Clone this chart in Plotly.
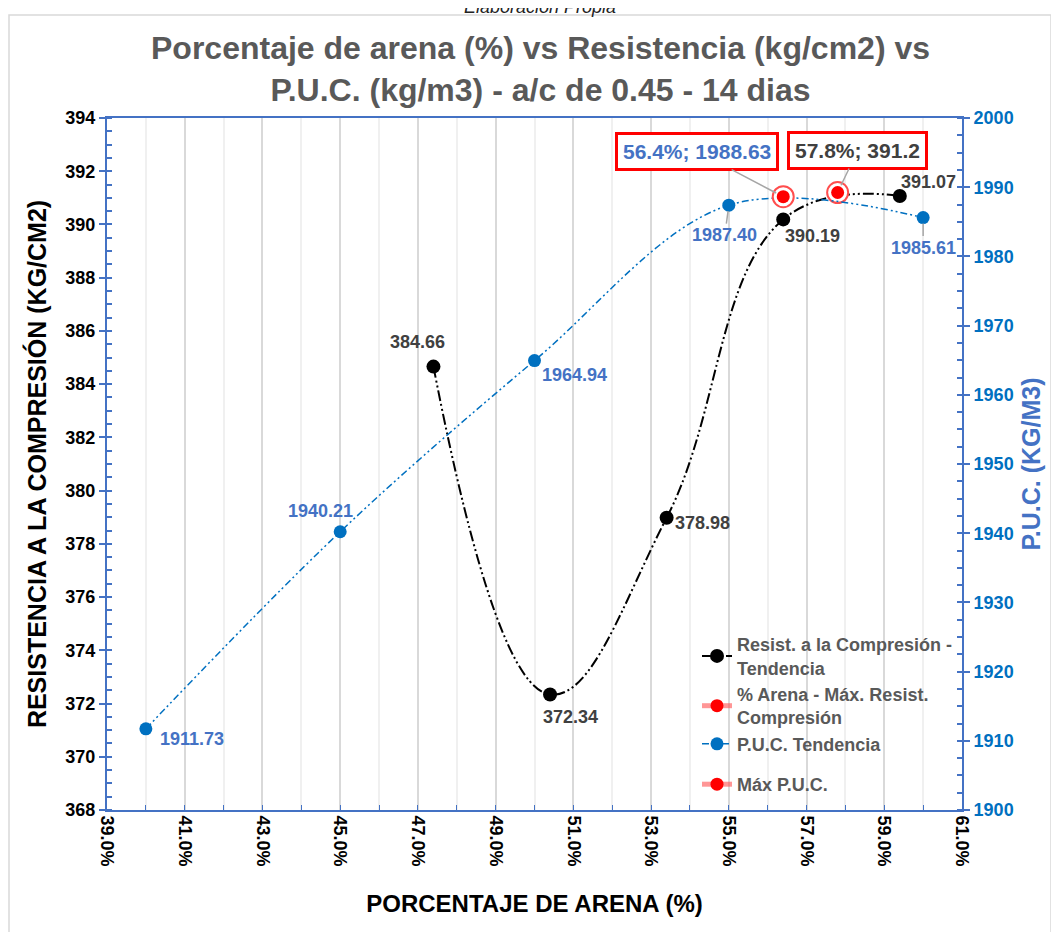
import plotly.graph_objects as go

# ---------------- data ----------------
arena_res = [47.4, 50.4, 53.4, 56.4, 59.4]
resistencia = [384.66, 372.34, 378.98, 390.19, 391.07]

arena_puc = [40.0, 45.0, 50.0, 55.0, 60.0]
puc = [1911.73, 1940.21, 1964.94, 1987.40, 1985.61]

max_res_x = [57.8]
max_res_y = [391.2]
max_puc_x = [56.4]
max_puc_y = [1988.63]

x_ticks = [39, 41, 43, 45, 47, 49, 51, 53, 55, 57, 59, 61]

FONT = "Liberation Sans, Arial, sans-serif"
AX_BLUE = "#4472C4"
PUC_BLUE = "#0070C0"
LBL_BLUE = "#4472C4"
DARK = "#404040"
GRAY = "#595959"

# page offset caused by the html body margin
OFF = 8

fig = go.Figure()

# Resistance trend
fig.add_trace(go.Scatter(
    x=arena_res, y=resistencia, mode="lines+markers",
    name="Resist. a la Compresión -<br>Tendencia",
    line=dict(color="black", width=2, shape="spline", smoothing=1.2,
              dash="11px,3px,2px,3px,2px,3px"),
    marker=dict(color="black", size=14),
    yaxis="y", legendgroup="a",
))

# Max resistance (ring behind)
fig.add_trace(go.Scatter(
    x=max_res_x, y=max_res_y, mode="markers", showlegend=False,
    marker=dict(color="white", size=21, line=dict(color="#FF4D4D", width=2)),
    yaxis="y", hoverinfo="skip",
))
fig.add_trace(go.Scatter(
    x=max_res_x, y=max_res_y, mode="lines+markers",
    name="% Arena - Máx. Resist.<br>Compresión",
    line=dict(color="rgba(255,80,80,0.6)", width=5),
    marker=dict(color="#FF0000", size=13),
    yaxis="y", legendgroup="a",
))

# PUC trend
fig.add_trace(go.Scatter(
    x=arena_puc, y=puc, mode="lines+markers",
    name="P.U.C. Tendencia",
    line=dict(color=PUC_BLUE, width=1.5, shape="spline", smoothing=1.0,
              dash="7px,3px,2px,3px,2px,3px"),
    marker=dict(color=PUC_BLUE, size=13),
    yaxis="y2", legendgroup="a",
))

# Max PUC
fig.add_trace(go.Scatter(
    x=max_puc_x, y=max_puc_y, mode="markers", showlegend=False,
    marker=dict(color="white", size=21, line=dict(color="#FF4D4D", width=2)),
    yaxis="y2", hoverinfo="skip",
))
fig.add_trace(go.Scatter(
    x=max_puc_x, y=max_puc_y, mode="lines+markers",
    name="Máx P.U.C.",
    line=dict(color="rgba(255,80,80,0.6)", width=5),
    marker=dict(color="#FF0000", size=13),
    yaxis="y2", legendgroup="b",
))

annotations = []

# Resistance labels: offsets in px
res_offsets = [(-16, 25), (20, -23), (36, -5), (29, -17), (29, 14)]
for xv, yv, (dx, dy) in zip(arena_res, resistencia, res_offsets):
    annotations.append(dict(
        x=xv, y=yv, xref="x", yref="y", text=f"<b>{yv:.2f}</b>",
        showarrow=False, xshift=dx, yshift=dy,
        font=dict(family=FONT, size=18, color=DARK)))

# PUC labels
puc_offsets = [(46, -10), (-20, 21), (40, -14), None, None]
for xv, yv, off in zip(arena_puc, puc, puc_offsets):
    if off is not None:
        annotations.append(dict(
            x=xv, y=yv, xref="x", yref="y2", text=f"<b>{yv:.2f}</b>",
            showarrow=False, xshift=off[0], yshift=off[1],
            font=dict(family=FONT, size=18, color=LBL_BLUE)))
lead_offsets = {3: (-4, 30), 4: (0, 30)}
for i, (ax, ay) in lead_offsets.items():
    annotations.append(dict(
        x=arena_puc[i], y=puc[i], xref="x", yref="y2",
        text=f"<b>{puc[i]:.2f}</b>", showarrow=True, arrowhead=0,
        arrowcolor="#A6A6A6", arrowwidth=1.5, ax=ax, ay=ay, standoff=6,
        font=dict(family=FONT, size=18, color=LBL_BLUE)))

# Boxed max annotations
annotations.append(dict(
    x=max_puc_x[0], y=max_puc_y[0], xref="x", yref="y2",
    text=f"<b>{max_puc_x[0]:.1f}%; {max_puc_y[0]:.2f}</b>",
    showarrow=True, arrowhead=0, arrowcolor="#A6A6A6", arrowwidth=1.5,
    ax=-86, ay=-45, standoff=8,
    bordercolor="#FF0000", borderwidth=3, borderpad=5, bgcolor="white",
    font=dict(family=FONT, size=21, color=LBL_BLUE)))
annotations.append(dict(
    x=max_res_x[0], y=max_res_y[0], xref="x", yref="y",
    text=f"<b>{max_res_x[0]:.1f}%; {max_res_y[0]:.1f}</b>",
    showarrow=True, arrowhead=0, arrowcolor="#A6A6A6", arrowwidth=1.5,
    ax=20, ay=-42, standoff=8,
    bordercolor="#FF0000", borderwidth=3, borderpad=5, bgcolor="white",
    font=dict(family=FONT, size=21, color=DARK)))

# Title
annotations.append(dict(
    x=(540 - 107) / 855, y=(810 - 69) / 692, xref="paper", yref="paper",
    text="<b>Porcentaje de arena (%) vs Resistencia (kg/cm2) vs</b><br>"
         "<b>P.U.C. (kg/m3) - a/c de 0.45 - 14 dias</b>",
    showarrow=False, xanchor="center", yanchor="middle",
    font=dict(family=FONT, size=32, color=GRAY)))

# Caption cut off at the top
annotations.append(dict(
    x=(540 - 107) / 855, y=(810 - OFF + 1) / 692, xref="paper", yref="paper",
    text="<i>Elaboración Propia</i>", showarrow=False,
    xanchor="center", yanchor="middle",
    font=dict(family=FONT, size=18, color="#222222")))

shapes = [dict(
    type="rect", xref="paper", yref="paper",
    x0=(9 - 107) / 855, x1=(1051 - 107) / 855,
    y0=(810 - 945) / 692, y1=(810 - 15) / 692,
    line=dict(color="#D9D9D9", width=1.5), fillcolor="rgba(0,0,0,0)",
    layer="below")]

tick_font_black = dict(family=FONT, size=18, color="black", weight="bold")

fig.update_layout(
    width=1059, height=932,
    margin=dict(l=107 - OFF, r=1059 - (962 - OFF), t=118 - OFF,
                b=932 - (810 - OFF), autoexpand=False),
    paper_bgcolor="white", plot_bgcolor="white",
    font=dict(family=FONT),
    showlegend=True,
    legend=dict(x=(697 - 107) / 855, y=(810 - 626) / 692,
                xanchor="left", yanchor="top",
                bgcolor="rgba(0,0,0,0)",
                traceorder="grouped", tracegroupgap=14,
                font=dict(family=FONT, size=18, color=GRAY, weight="bold")),
    annotations=annotations,
    shapes=shapes,
    xaxis=dict(
        range=[39, 61], tickmode="array", tickvals=x_ticks,
        ticktext=[f"{v:.1f}%" for v in x_ticks],
        tickangle=90, tickfont=tick_font_black,
        showgrid=True, gridcolor="#D9D9D9", gridwidth=1.5,
        ticks="inside", ticklen=5, tickcolor=AX_BLUE,
        minor=dict(dtick=1, showgrid=True, gridcolor="#F0F0F0",
                   ticks="inside", ticklen=5, tickcolor=AX_BLUE),
        showline=True, linecolor=AX_BLUE, linewidth=2, mirror=True,
        zeroline=False,
        title=dict(text="<b>PORCENTAJE DE ARENA (%)</b>",
                   font=dict(family=FONT, size=24, color="black"),
                   standoff=30),
    ),
    yaxis=dict(
        range=[368, 394], dtick=2, tick0=368,
        tickfont=tick_font_black,
        showgrid=False, zeroline=False,
        ticks="outside", ticklen=6, tickcolor=AX_BLUE, tickwidth=2,
        minor=dict(dtick=0.5, ticks="inside", ticklen=5, tickcolor=AX_BLUE),
        showline=True, linecolor=AX_BLUE, linewidth=2,
        title=dict(text="<b>RESISTENCIA A LA COMPRESIÓN (KG/CM2)</b>",
                   font=dict(family=FONT, size=25, color="black"),
                   standoff=12),
    ),
    yaxis2=dict(
        range=[1900, 2000], dtick=10, tick0=1900,
        overlaying="y", side="right",
        tickfont=dict(family=FONT, size=18, color=PUC_BLUE, weight="bold"),
        showgrid=False, zeroline=False,
        ticks="outside", ticklen=6, tickcolor=AX_BLUE, tickwidth=2,
        minor=dict(dtick=2.5, ticks="inside", ticklen=5, tickcolor=AX_BLUE),
        showline=True, linecolor=AX_BLUE, linewidth=2,
        title=dict(text="<b>P.U.C. (KG/M3)</b>",
                   font=dict(family=FONT, size=25, color=LBL_BLUE),
                   standoff=10),
    ),
)

fig.write_html("out.html")
